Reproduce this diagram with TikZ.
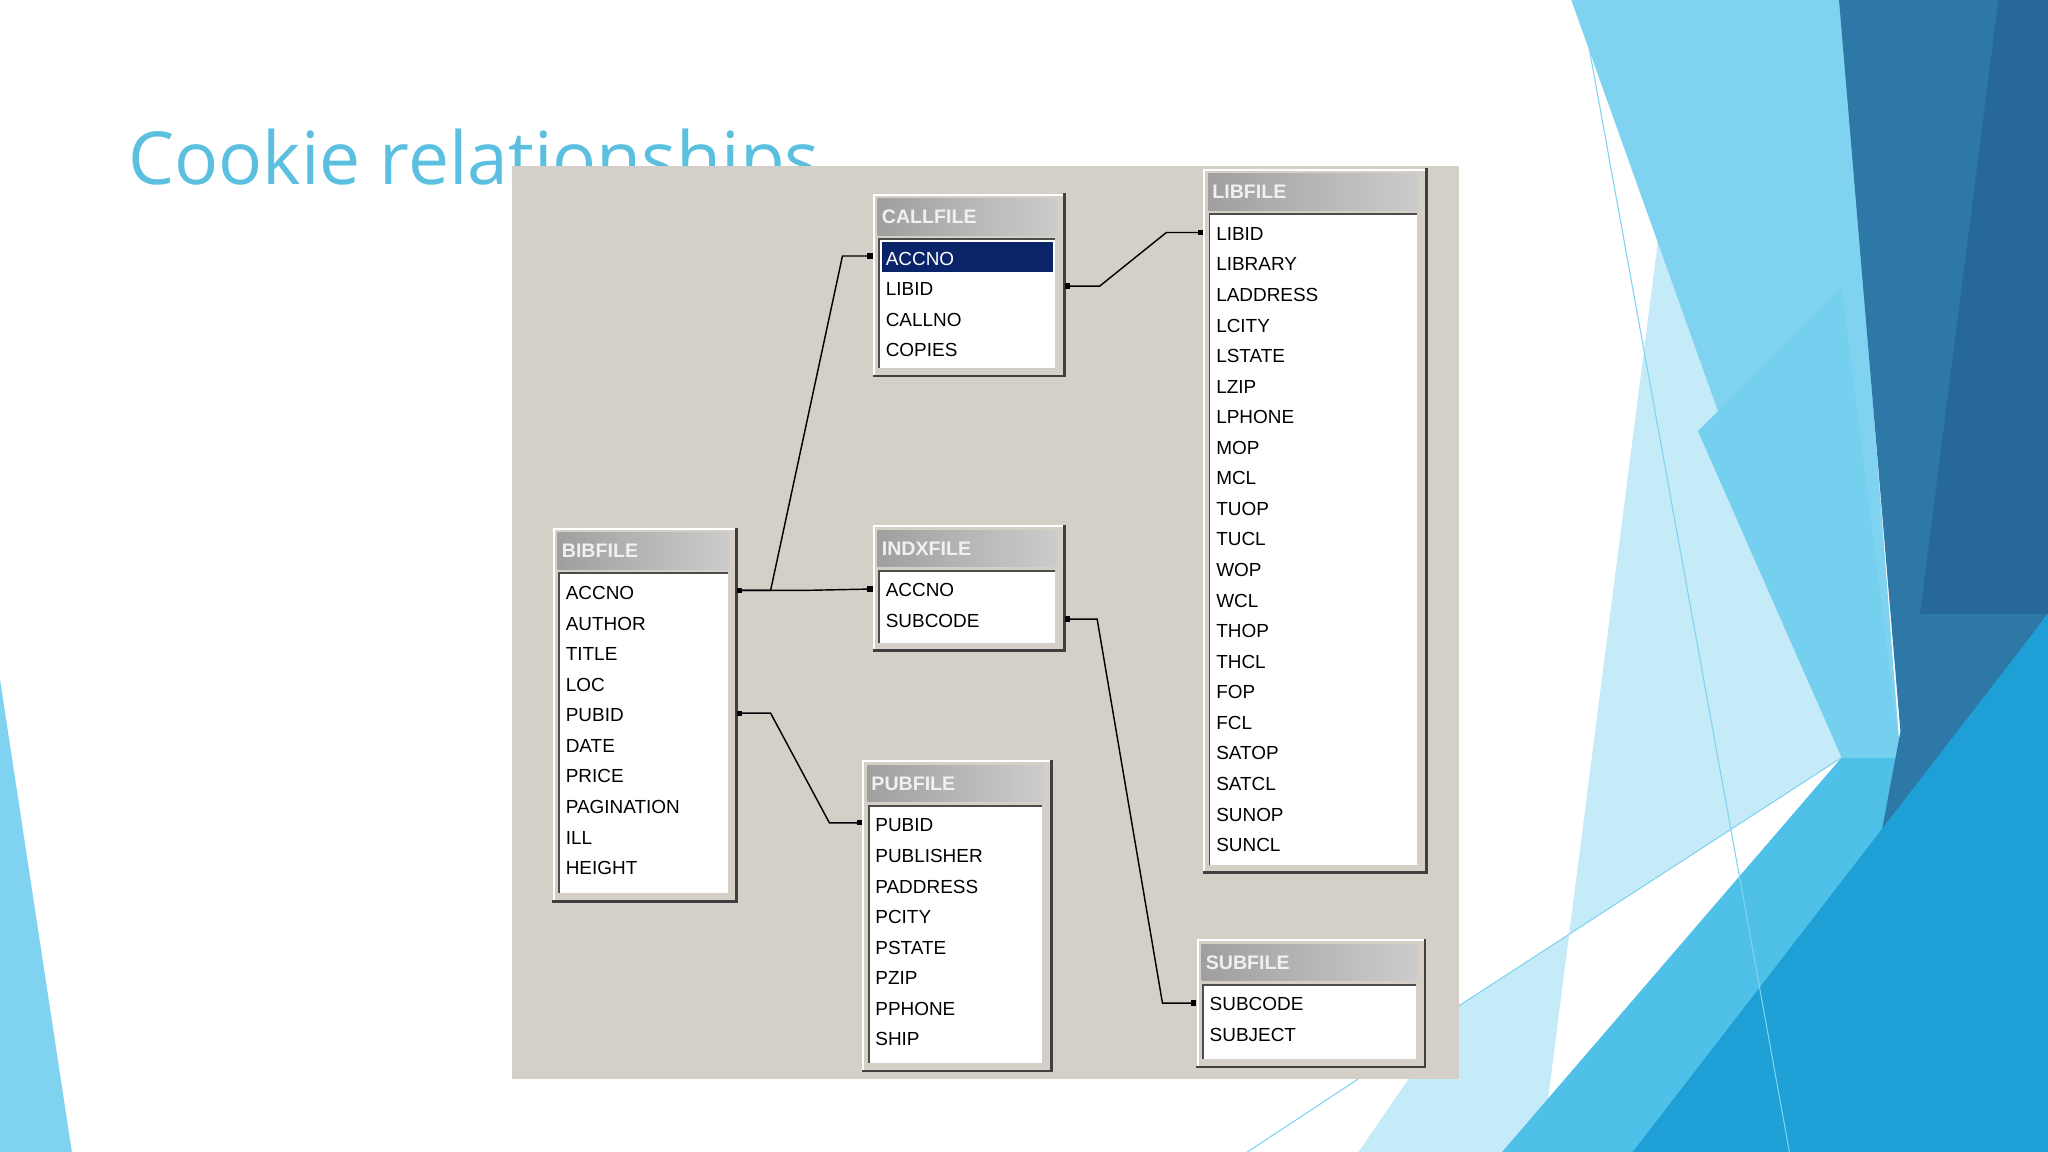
\documentclass[tikz,border=0pt]{standalone}
\usepackage{fontspec}
\setmainfont{Liberation Sans}
\newfontfamily\titlefont{Open Sans}
\definecolor{winbg}{HTML}{D4D0C8}
\definecolor{ttl}{HTML}{5BC0E0}
\definecolor{navy}{HTML}{0A246A}
\definecolor{lb1}{HTML}{7FD3F0}
\definecolor{lb2}{HTML}{C5EAF8}
\definecolor{mb}{HTML}{4FC1E8}
\definecolor{db1}{HTML}{2E78A8}
\definecolor{db2}{HTML}{26679C}
\definecolor{bb}{HTML}{1EA0D6}
\tikzset{
  rowtxt/.style={anchor=west,inner sep=0pt,font=\fontsize{14.5}{15}\selectfont,text=black},
  hdrtxt/.style={anchor=west,inner sep=0pt,font=\fontsize{15}{16}\selectfont\bfseries,text=white!88!gray},
  link/.style={draw=black,line width=1.1pt},
  dot/.style={fill=black,minimum size=4pt,inner sep=0pt,draw=none,rectangle}
}
\newcommand\mytbl[7]{%
  \coordinate (#1) at (#2,#3);
  \fill[winbg] (#2,#3) rectangle (#4,#5);
  \draw[white,line width=1.5pt] ({#2+1},{#5-1}) -- ({#2+1},{#3+1}) -- ({#4-1},{#3+1});
  \draw[gray!50!black,line width=2pt] ({#2},{#5}) -- ({#4},{#5}) -- ({#4},{#3});
  \shade[left color=gray!75,right color=gray!40] ({#2+4},{#3+4}) rectangle ({#4-6},{#3+32});
  \node[hdrtxt] at ({#2+7},{#3+18}) {#6};
  \fill[white] ({#2+5},{#3+35}) rectangle ({#4-7},{#5-6});
  \draw[gray!60!black,line width=1.5pt] ({#2+5},{#5-6}) -- ({#2+5},{#3+35}) -- ({#4-7},{#3+35});
  \foreach \r [count=\i from 0] in {#7} \node[rowtxt] at ({#2+10},{#3+50+23.4*\i}) {\r};
}
\begin{document}
\begin{tikzpicture}[x=1pt,y=-1pt]
\useasboundingbox (0,0) rectangle (1568,882);
\fill[white] (0,0) rectangle (1568,882);
% decoration
\fill[lb2] (1270,180) -- (1410,580) -- (1117,770) -- (1040,882) -- (1180,882) -- cycle;
\fill[lb1] (1203,0) -- (1410,0) -- (1455,580) -- (1410,580) -- cycle;
\fill[lb1!80!mb] (1300,330) -- (1410,220) -- (1455,580) -- (1410,580) -- cycle;
\fill[mb] (1150,882) -- (1410,580) -- (1455,580) -- (1568,500) -- (1568,882) -- cycle;
\fill[db1] (1408,0) -- (1568,0) -- (1568,470) -- (1440,640) -- (1455,560) -- cycle;
\fill[db2] (1530,0) -- (1568,0) -- (1568,470) -- (1470,470) -- cycle;
\fill[bb] (1250,882) -- (1568,470) -- (1568,882) -- cycle;
\fill[lb1] (0,520) -- (55,882) -- (0,882) -- cycle;
\draw[lb1,line width=0.8pt] (1210,0) -- (1370,882);
\draw[lb1,line width=0.8pt] (1117,770) -- (1410,580);
\draw[lb1,line width=0.8pt] (955,882) -- (1040,826);
% title
\node[anchor=base west,inner sep=0pt,text=ttl,font=\titlefont\fontsize{56}{56}\selectfont] (title) at (98,141) {Cookie relationships};
% screenshot
\fill[winbg] (392,127) rectangle (1117,826);
\mytbl{call}{668}{148}{815}{288}{CALLFILE}{ACCNO,LIBID,CALLNO,COPIES}
\fill[navy] (675,185) rectangle (806,208);
\node[rowtxt,text=white] at (678,198) {ACCNO};
\mytbl{lib}{921}{129}{1092}{668}{LIBFILE}{LIBID,LIBRARY,LADDRESS,LCITY,LSTATE,LZIP,LPHONE,MOP,MCL,TUOP,TUCL,WOP,WCL,THOP,THCL,FOP,FCL,SATOP,SATCL,SUNOP,SUNCL}
\mytbl{bib}{423}{404}{564}{690}{BIBFILE}{ACCNO,AUTHOR,TITLE,LOC,PUBID,DATE,PRICE,PAGINATION,ILL,HEIGHT}
\mytbl{indx}{668}{402}{815}{498}{INDXFILE}{ACCNO,SUBCODE}
\mytbl{pub}{660}{582}{805}{820}{PUBFILE}{PUBID,PUBLISHER,PADDRESS,PCITY,PSTATE,PZIP,PPHONE,SHIP}
\mytbl{sub}{916}{719}{1091}{817}{SUBFILE}{SUBCODE,SUBJECT}
% connector ends
\coordinate (bibA) at (566,452);
\coordinate (bibP) at (566,546);
\coordinate (callA) at (666,196);
\coordinate (callR) at (817,219);
\coordinate (libL) at (919,178);
\coordinate (indxL) at (666,451);
\coordinate (indxR) at (817,474);
\coordinate (pubL) at (658,630);
\coordinate (subL) at (914,768);
\draw[link] (bibA) -- ++(24,0) -- (645,196) -- (callA);
\draw[link] (bibA) -- (617,452) -- (indxL);
\draw[link] (callR) -- ++(25,0) -- (893,178) -- (libL);
\draw[link] (bibP) -- ++(24,0) -- (635,630) -- (pubL);
\draw[link] (indxR) -- ++(23,0) -- (890,768) -- (subL);
\foreach \p in {bibA,bibP,callA,callR,libL,indxL,indxR,pubL,subL} \node[dot] at (\p) {};
\end{tikzpicture}
\end{document}
